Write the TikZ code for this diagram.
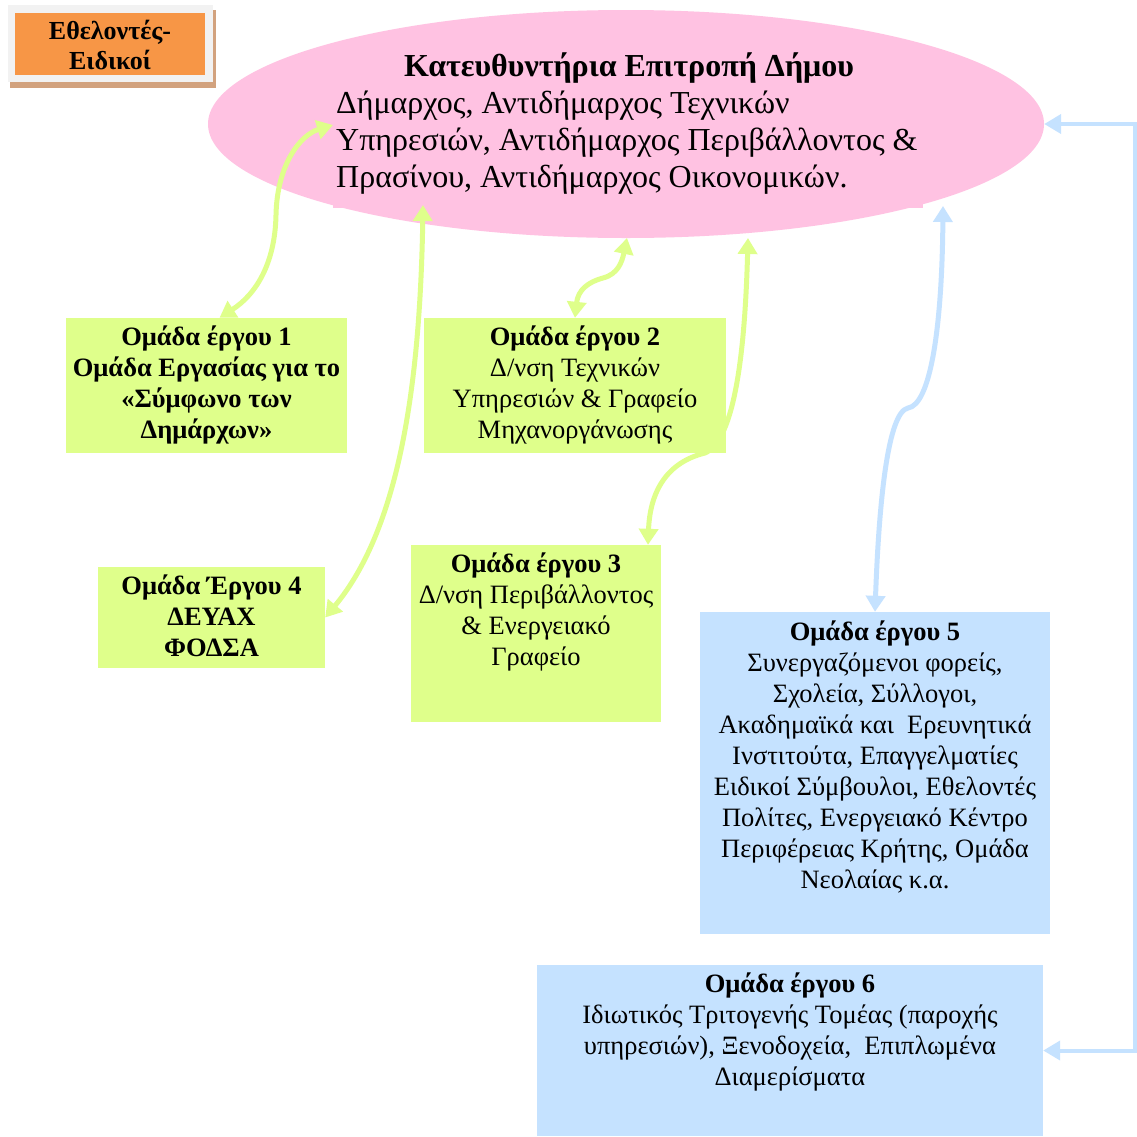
\documentclass[tikz,border=0pt]{standalone}
\usepackage{fontspec}
\setmainfont{Liberation Serif}
\usetikzlibrary{arrows.meta,calc,shapes.geometric}
\definecolor{pinkE}{HTML}{FFC2E2}
\definecolor{yg}{HTML}{DFFF8B}
\definecolor{blueB}{HTML}{C5E2FF}
\definecolor{orangeB}{HTML}{F79646}
\definecolor{grayF}{HTML}{F2F2F2}
\definecolor{shadowB}{HTML}{D2A27E}
\begin{document}
\begin{tikzpicture}[x=1pt,y=-1pt,
  boxY/.style={fill=yg, inner sep=0, draw=none},
  boxB/.style={fill=blueB, inner sep=0, draw=none},
  txt/.style={inner sep=0, align=center, font=\fontsize{26.5}{31}\selectfont},
  ygarrow/.style={draw=yg, line width=5pt, {Triangle[length=16pt,width=19pt]}-{Triangle[length=16pt,width=19pt]}},
  blarrow/.style={draw=blueB, line width=5pt, {Triangle[length=16pt,width=19pt]}-{Triangle[length=16pt,width=19pt]}},
  blelbow/.style={draw=blueB, line width=4pt, {Triangle[length=17pt,width=19pt]}-{Triangle[length=17pt,width=19pt]}}
]
\useasboundingbox (0,0) rectangle (1137,1136);
\fill[white] (0,0) rectangle (1137,1136);

% orange label
\fill[shadowB] (10,82) rectangle (216,88);
\fill[shadowB] (212,10) rectangle (216,88);
\node[fill=grayF, inner sep=0, minimum width=205, minimum height=77] (frm) at (110.5,43.5) {};
\node[fill=orangeB, inner sep=0, minimum width=190, minimum height=62] (vol) at (110,44) {};
\node[inner sep=0, align=center, font=\fontsize{26}{30}\selectfont\bfseries, anchor=base] (volt) at (110,69) {Εθελοντές-\\Ειδικοί};

% ellipse
\node[ellipse, fill=pinkE, inner sep=0, minimum width=836, minimum height=228] (ell) at (626,124) {};
\node[fill=pinkE, inner sep=0, minimum width=590, minimum height=160] (tb) at (628,128) {};
\node[inner sep=0, font=\fontsize{32}{37}\selectfont\bfseries, anchor=base] (title) at (629,76) {Κατευθυντήρια Επιτροπή Δήμου};
\node[inner sep=0, align=left, font=\fontsize{32}{37}\selectfont, anchor=base west] (body) at (336,187) {Δήμαρχος, Αντιδήμαρχος Τεχνικών\\Υπηρεσιών, Αντιδήμαρχος Περιβάλλοντος \&\\Πρασίνου, Αντιδήμαρχος Οικονομικών.};

% boxes
\node[boxY, minimum width=281, minimum height=135] (b1) at (206.5,385.5) {};
\node[txt, font=\fontsize{26.5}{31}\selectfont\bfseries, anchor=base] (t1) at (206.5,438) {Ομάδα έργου 1\\Ομάδα Εργασίας για το\\«Σύμφωνο των\\Δημάρχων»};

\node[boxY, minimum width=302, minimum height=135] (b2) at (575,385.5) {};
\node[txt, anchor=base] (t2) at (575,438) {\textbf{Ομάδα έργου 2}\\Δ/νση Τεχνικών\\Υπηρεσιών \& Γραφείο\\Μηχανοργάνωσης};

\node[boxY, minimum width=250, minimum height=177] (b3) at (536,633.5) {};
\node[txt, anchor=base] (t3) at (536,665) {\textbf{Ομάδα έργου 3}\\Δ/νση Περιβάλλοντος\\\& Ενεργειακό\\Γραφείο};

\node[boxY, minimum width=227, minimum height=101] (b4) at (211.5,617.5) {};
\node[txt, font=\fontsize{26.5}{31}\selectfont\bfseries, anchor=base] (t4) at (211.5,656) {Ομάδα Έργου 4\\ΔΕΥΑΧ\\ΦΟΔΣΑ};

\node[boxB, minimum width=350, minimum height=322] (b5) at (875,773) {};
\node[txt, anchor=base] (t5) at (875,888) {\textbf{Ομάδα έργου 5}\\Συνεργαζόμενοι φορείς,\\Σχολεία, Σύλλογοι,\\Ακαδημαϊκά και\ \ Ερευνητικά\\Ινστιτούτα, Επαγγελματίες\\Ειδικοί Σύμβουλοι, Εθελοντές\\Πολίτες, Ενεργειακό Κέντρο\\Περιφέρειας Κρήτης, Ομάδα\\Νεολαίας κ.α.};

\node[boxB, minimum width=506, minimum height=171] (b6) at (790,1050.5) {};
\node[txt, anchor=base] (t6) at (790,1085) {\textbf{Ομάδα έργου 6}\\Ιδιωτικός Τριτογενής Τομέας (παροχής\\υπηρεσιών), Ξενοδοχεία,\ \ Επιπλωμένα\\Διαμερίσματα};

% connector end points
\coordinate (e1) at (333,125);
\coordinate (e2) at (423,205);
\coordinate (e3) at (627,238);
\coordinate (e4) at (748,238);
\coordinate (e5) at (943,206);
\coordinate (p1) at ([xshift=13pt]b1.north);
\coordinate (p2) at ([xshift=0pt]b2.north);
\coordinate (p3) at ([xshift=112pt]b3.north);
\coordinate (p4) at ([yshift=0pt]b4.east);
\coordinate (p5) at (b5.north);

\draw[ygarrow] (p1) .. controls (255,295) and (275,265) .. (276,215) .. controls (277,165) and (300,135) .. (e1);
\draw[ygarrow] (e2) .. controls (420,390) and (398,530) .. (p4);
\draw[ygarrow] (p2) .. controls (578,290) and (588,282) .. (603,278) .. controls (618,274) and (622,262) .. (e3);
\draw[ygarrow] (e4) .. controls (745,350) and (735,440) .. (705,453) .. controls (668,462) and (650,490) .. (p3);
\draw[blarrow] (e5) .. controls (942,330) and (930,405) .. (908,408) .. controls (888,412) and (879,500) .. (p5);
\draw[blelbow] (ell.east) -- (1135,124) |- (b6.east);
\end{tikzpicture}
\end{document}
